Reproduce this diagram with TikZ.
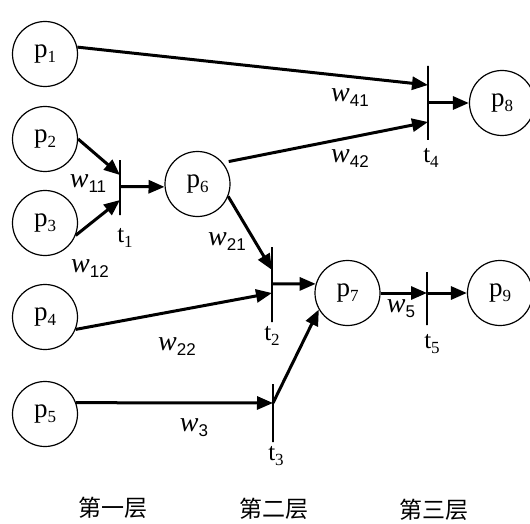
\documentclass[tikz,border=0pt]{standalone}
\usepackage{fontspec}
\setmainfont{Liberation Serif}
\newfontfamily\subsans{Liberation Sans}
\newfontfamily\cjk{Noto Sans CJK SC}
\usetikzlibrary{arrows.meta}

% subscripts: serif for places and transitions, sans for weights
\newcommand\ps[1]{\raisebox{-5pt}{\fontsize{17}{17}\selectfont #1}}
\newcommand\ws[1]{\raisebox{-5pt}{\upshape\subsans\fontsize{17}{17}\selectfont #1}}

\begin{document}
\begin{tikzpicture}[x=1pt,y=-1pt,
  place/.style={circle,draw,line width=1.2pt,minimum size=65pt,inner sep=0pt,
    font=\fontsize{27}{27}\selectfont},
  tbar/.style={rectangle,draw,line width=1.4pt,minimum width=0pt,inner sep=0pt},
  arc/.style={line width=3pt,-{Triangle[length=16pt,width=13pt]}},
  wlab/.style={font=\fontsize{28}{28}\selectfont\itshape,inner sep=0pt},
  tlab/.style={font=\fontsize{25}{25}\selectfont,inner sep=0pt},
  layer/.style={font=\cjk\fontsize{23}{23}\selectfont,inner sep=0pt}]

\useasboundingbox (0,0) rectangle (530,524);

% places
\node[place] (p1) at (45,54)    {p\ps{1}};
\node[place] (p2) at (45,139)   {p\ps{2}};
\node[place] (p3) at (45,223)   {p\ps{3}};
\node[place] (p4) at (45,317)   {p\ps{4}};
\node[place] (p5) at (45,414)   {p\ps{5}};
\node[place] (p6) at (197.5,184){p\ps{6}};
\node[place] (p7) at (347.5,293){p\ps{7}};
\node[place] (p8) at (502,103)  {p\ps{8}};
\node[place] (p9) at (500,293)  {p\ps{9}};

% transitions
\node[tbar,minimum height=55pt] (t1) at (120,187.5) {};
\node[tbar,minimum height=75pt] (t2) at (272,284.5) {};
\node[tbar,minimum height=58pt] (t3) at (273,413)   {};
\node[tbar,minimum height=74pt] (t4) at (428,103)   {};
\node[tbar,minimum height=53pt] (t5) at (427,298.5) {};

% ports on the transition bars
\coordinate (t1a) at (120,175);
\coordinate (t1b) at (120,200);
\coordinate (t1o) at (120,186.5);
\coordinate (t2a) at (272,270);
\coordinate (t2b) at (272,293);
\coordinate (t2o) at (272,284);
\coordinate (t3o) at (273,403);
\coordinate (t4a) at (428,85);
\coordinate (t4b) at (428,122);
\coordinate (t4o) at (428,103);
\coordinate (t5o) at (427,293);

% arcs
\draw[arc] (p1.12) -- (t4a);
\draw[arc,shorten <=6pt] (p6.40) -- (t4b);
\draw[arc] (t4o) -- (p8.west);
\draw[arc] (p2.east) -- (t1a);
\draw[arc] (p3.-22) -- (t1b);
\draw[arc] (t1o) -- (p6.185);
\draw[arc] (p6.-22) -- (t2a);
\draw[arc] (p4.-22) -- (t2b);
\draw[arc] (t2o) -- (p7.164);
\draw[arc] (p5.20) -- (t3o);
\draw[arc] (t3o) -- (p7.210);
\draw[arc] (p7.east) -- (t5o);
\draw[arc] (t5o) -- (p9.west);

% weights
\node[wlab] (w41) at (350,98)  {w\ws{41}};
\node[wlab] (w42) at (350,159) {w\ws{42}};
\node[wlab] (w11) at (88,184)  {w\ws{11}};
\node[wlab] (w12) at (90,269)  {w\ws{12}};
\node[wlab] (w21) at (227,242) {w\ws{21}};
\node[wlab] (w22) at (177,347) {w\ws{22}};
\node[wlab] (w3)  at (194,428) {w\ws{3}};
\node[wlab] (w5)  at (401,309) {w\ws{5}};

% transition names
\node[tlab] (l1) at (125,238) {t\ps{1}};
\node[tlab] (l2) at (272,336) {t\ps{2}};
\node[tlab] (l3) at (276,456) {t\ps{3}};
\node[tlab] (l4) at (431,158) {t\ps{4}};
\node[tlab] (l5) at (432,344) {t\ps{5}};

% layers
\node[layer] (c1) at (113,508) {第一层};
\node[layer] (c2) at (274,509) {第二层};
\node[layer] (c3) at (434,510) {第三层};
\end{tikzpicture}
\end{document}
